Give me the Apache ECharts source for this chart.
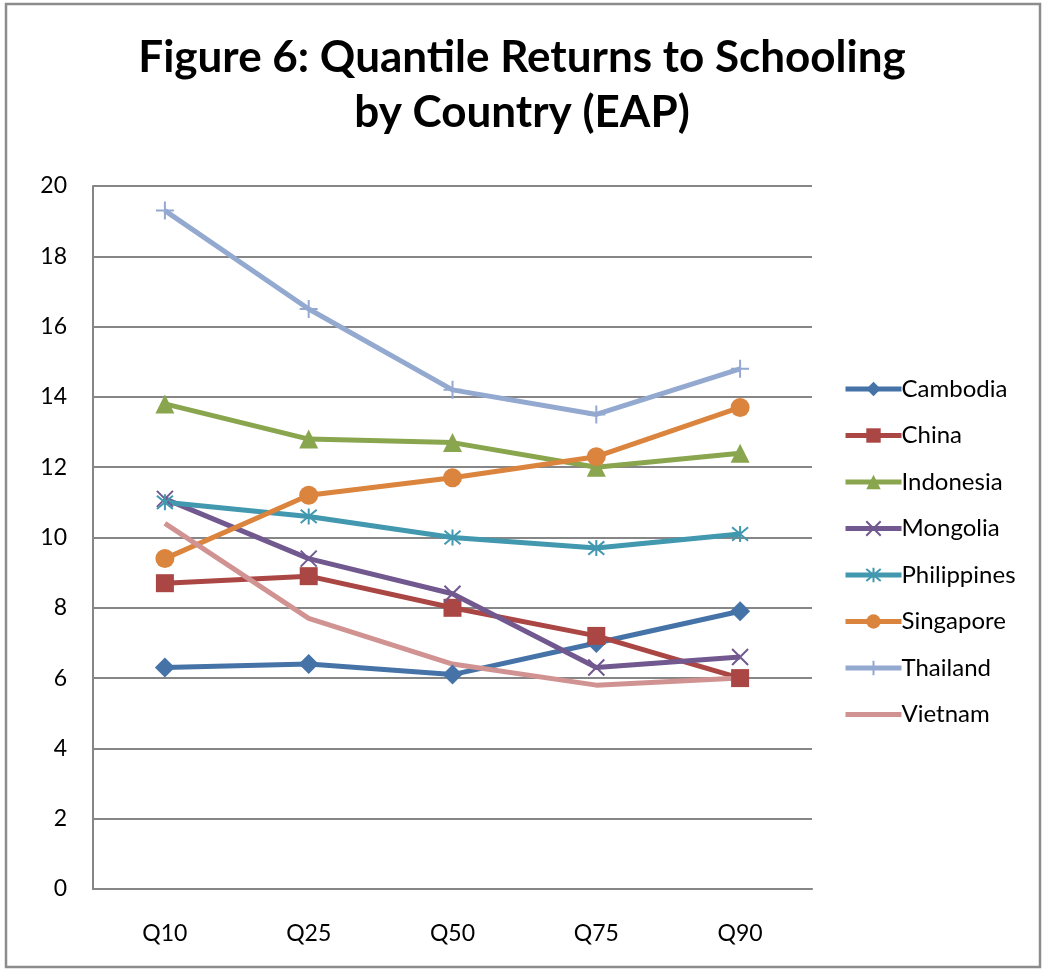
<!DOCTYPE html>
<html>
<head>
<meta charset="utf-8">
<script src="https://cdn.jsdelivr.net/npm/echarts@6/dist/echarts.min.js"></script>
<style>
  body { margin: 0; background: #fff; }
  #chart { width: 1044px; height: 969px; }
</style>
</head>
<body>
<div id="chart"></div>
<script>
// quantiles on the x axis
const quantiles = ['Q10', 'Q25', 'Q50', 'Q75', 'Q90'];

// returns to schooling
const cambodia    = [6.3, 6.4, 6.1, 7.0, 7.9];
const china       = [8.7, 8.9, 8.0, 7.2, 6.0];
const indonesia   = [13.8, 12.8, 12.7, 12.0, 12.4];
const mongolia    = [11.1, 9.4, 8.4, 6.3, 6.6];
const philippines = [11.0, 10.6, 10.0, 9.7, 10.1];
const singapore   = [9.4, 11.2, 11.7, 12.3, 13.7];
const thailand    = [19.3, 16.5, 14.2, 13.5, 14.8];
const vietnam     = [10.4, 7.7, 6.4, 5.8, 6.0];

const font = 'Lato, "Open Sans", sans-serif';

// marker shapes (stroked paths)
const xMark = 'path://M0,0L10,10M10,0L0,10';
const starMark = 'path://M0,0L10,10M10,0L0,10M5,-1L5,11';
const plusMark = 'path://M5,0L5,10M0,5L10,5';

function line(name, data, color, symbol, size, stroked) {
  return {
    name: name,
    type: 'line',
    data: data,
    symbol: symbol,
    symbolSize: size,
    lineStyle: { color: color, width: 5 },
    itemStyle: stroked
      ? { color: 'rgba(0,0,0,0)', borderColor: color, borderWidth: 2 }
      : { color: color, borderWidth: 0 },
    emphasis: { disabled: true },
    z: 2
  };
}

let myChart = echarts.init(document.getElementById('chart'));
let option = {
  animation: false,
  title: {
    text: 'Figure 6: Quantile Returns to Schooling\nby Country (EAP)',
    left: 'center',
    top: 25,
    textStyle: {
      fontFamily: font,
      fontSize: 44,
      fontWeight: 'bold',
      color: '#000',
      lineHeight: 55
    }
  },
  graphic: [{
    type: 'rect',
    shape: { x: 6, y: 4, width: 1034, height: 963 },
    style: { fill: 'none', stroke: '#8c8c8c', lineWidth: 2.5 },
    silent: true
  }],
  legend: {
    orient: 'vertical',
    left: 838,
    top: 372,
    itemWidth: 56,
    itemHeight: 18,
    itemGap: 22.5,
    lineStyle: { width: 5 },
    textStyle: { fontFamily: font, fontSize: 24, color: '#000', padding: [0, 0, 0, -5] },
    data: ['Cambodia', 'China', 'Indonesia', 'Mongolia', 'Philippines', 'Singapore', 'Thailand',
      { name: 'Vietnam', itemStyle: { opacity: 0 } }]
  },
  grid: {
    left: 93,
    right: 232,
    top: 186,
    bottom: 80
  },
  xAxis: {
    type: 'category',
    data: quantiles,
    boundaryGap: true,
    axisLine: { lineStyle: { color: '#868686', width: 2 } },
    axisTick: { show: false },
    axisLabel: { fontFamily: font, fontSize: 23, color: '#000', margin: 33 }
  },
  yAxis: {
    type: 'value',
    min: 0,
    max: 20,
    interval: 2,
    axisLine: { show: true, lineStyle: { color: '#868686', width: 2 } },
    axisTick: { show: false },
    splitLine: { lineStyle: { color: '#868686', width: 2 } },
    axisLabel: { fontFamily: font, fontSize: 23, color: '#000', margin: 26 }
  },
  series: [
    line('Cambodia', cambodia, '#4572A7', 'diamond', 20, false),
    line('China', china, '#AA4643', 'rect', 18, false),
    line('Indonesia', indonesia, '#89A54E', 'triangle', 19, false),
    line('Mongolia', mongolia, '#71588F', xMark, 16, true),
    line('Philippines', philippines, '#4198AF', starMark, 16, true),
    line('Singapore', singapore, '#DB843D', 'circle', 19, false),
    line('Thailand', thailand, '#93A9CF', plusMark, 18, true),
    line('Vietnam', vietnam, '#D19392', 'none', 0, false)
  ]
};
myChart.setOption(option);
</script>
</body>
</html>
